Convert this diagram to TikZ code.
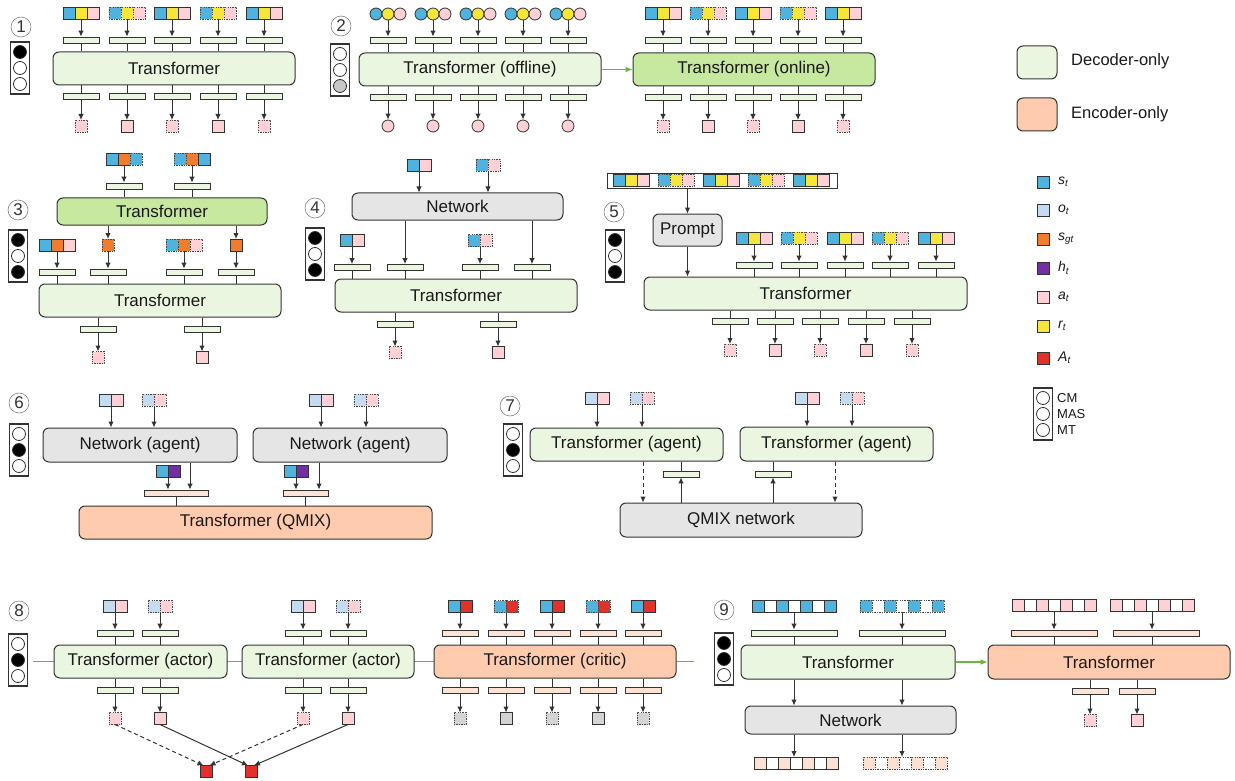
\documentclass[tikz,border=0pt]{standalone}
\usepackage{fontspec}
\setmainfont{Liberation Sans}
\usetikzlibrary{arrows.meta}
\definecolor{bd}{HTML}{333333}
\definecolor{decfill}{HTML}{EAF6DF}
\definecolor{onfill}{HTML}{C6E89F}
\definecolor{encfill}{HTML}{FFCBAE}
\definecolor{netfill}{HTML}{E6E5E6}
\definecolor{cs}{HTML}{4FB3DD}
\definecolor{co}{HTML}{C5DBF0}
\definecolor{cg}{HTML}{F07C30}
\definecolor{ch}{HTML}{7430A0}
\definecolor{ca}{HTML}{FFD0D6}
\definecolor{cr}{HTML}{F6E63A}
\definecolor{cA}{HTML}{E2302A}
\definecolor{cgray}{HTML}{D4D4D4}
\definecolor{barg}{HTML}{EAF6DF}
\definecolor{barp}{HTML}{FDE3D4}
\definecolor{cpeach}{HTML}{FCE0D2}
\definecolor{grn}{HTML}{6FB23F}
% box from corners: style x1 y1 x2 y2 name text
\newcommand{\bx}[7]{\node[#1, minimum width={#4-#2}, minimum height={#5-#3}] (#6) at ({(#2+#4)/2},{(#3+#5)/2}) {#7};}
% single square: name x y colour style
\newcommand{\sqat}[5]{\node[#5,fill=#4] (#1) at (#2,#3) {};}
% three squares: name x y c1 c2 c3 style
\newcommand{\sqtrio}[7]{%
  \node[#7,fill=#4] (#1-a) at (#2-12,#3) {};
  \node[#7,fill=#5] (#1) at (#2,#3) {};
  \node[#7,fill=#6] (#1-c) at (#2+12,#3) {};}
% two squares: name xjunction y c1 c2 style
\newcommand{\pairsq}[6]{%
  \node[#6,fill=#4] (#1-a) at (#2-6,#3) {};
  \node[#6,fill=#5] (#1-b) at (#2+6,#3) {};
  \coordinate (#1) at (#2,#3+6);}
% strip of seven cells: name xcenter y c1 c2 style
\newcommand{\cellstrip}[6]{%
  \foreach \k in {0,...,6}{%
    \ifodd\k\relax\def\cc{#5}\else\def\cc{#4}\fi
    \node[#6,fill=\cc] (#1-\k) at ({#2-36+12*\k},#3) {};}}
% indicator: name xleft ytop f1 f2 f3
\newcommand{\indbox}[6]{%
  \node[draw=bd, line width=1.1pt, fill=white, minimum width=19pt, minimum height=52pt, inner sep=0pt] (#1) at (#2+10,#3+26) {};
  \node[indot, fill=#4] (#1-1) at (#2+10,#3+10) {};
  \node[indot, fill=#5] (#1-2) at (#2+10,#3+26) {};
  \node[indot, fill=#6] (#1-3) at (#2+10,#3+42) {};}
\begin{document}
\begin{tikzpicture}[x=1pt,y=-1pt,
  sq/.style={draw=bd, line width=0.8pt, minimum size=12pt, inner sep=0pt, outer sep=0pt},
  dsq/.style={sq, draw=bd!90, dash pattern=on 1.3pt off 1.1pt},
  cir/.style={circle, draw=bd, line width=0.8pt, minimum size=12pt, inner sep=0pt},
  bar/.style={draw=bd, line width=0.8pt, fill=barg, minimum width=36pt, minimum height=6pt, inner sep=0pt},
  pbar/.style={bar, fill=barp},
  box/.style={draw=bd, line width=1pt, rounded corners=6pt, inner sep=0pt, text=black!90, font=\fontsize{17}{20}\selectfont},
  dec/.style={box, fill=decfill},
  dectwo/.style={box, fill=onfill},
  enc/.style={box, fill=encfill},
  net/.style={box, fill=netfill},
  arr/.style={draw=bd, line width=1pt, -{Latex[length=6pt,width=5.5pt]}},
  ln/.style={draw=bd, line width=0.8pt},
  garr/.style={draw=grn, line width=1.1pt, -{Latex[length=7pt,width=6pt]}},
  numc/.style={circle, draw=black!55, line width=0.5pt, minimum size=20pt, inner sep=0pt, text=black!80, font=\fontsize{17}{17}\selectfont},
  indot/.style={circle, draw=bd, line width=0.8pt, minimum size=13pt, inner sep=0pt},
  lab/.style={anchor=west, inner sep=0pt, text=black!90, font=\fontsize{16.5}{20}\selectfont},
  slab/.style={anchor=west, inner sep=0pt, text=black!90, font=\fontsize{14}{16}\selectfont\itshape},
  clab/.style={anchor=west, inner sep=0pt, text=black!90, font=\fontsize{13}{15}\selectfont}]
\useasboundingbox (0,0) rectangle (1235,781);

% ---------------- Panel 1
\node[numc] (n1) at (21,27) {1};
\indbox{ind1}{10}{42}{black}{white}{white}
\bx{dec}{53}{52}{295}{85}{T1}{Transformer}
\foreach \ii/\xx/\sa/\sb in {1/81/sq/dsq,2/127/dsq/sq,3/172/sq/dsq,4/218/dsq/sq,5/264/sq/dsq}{
  \sqtrio{p1i\ii}{\xx}{13}{cs}{cr}{ca}{\sa}
  \node[bar] (p1b\ii) at (\xx,40) {};
  \node[bar] (p1c\ii) at (\xx,96) {};
  \node[\sb,fill=ca] (p1o\ii) at (\xx,126) {};
  \draw[arr] (p1i\ii.south) -- (p1b\ii.north);
  \draw[ln] (p1b\ii.south) -- (p1b\ii.south |- T1.north);
  \draw[ln] (p1c\ii.north |- T1.south) -- (p1c\ii.north);
  \draw[arr] (p1c\ii.south) -- (p1o\ii.north);
}

% ---------------- Panel 2
\node[numc] (n2) at (341,26) {2};
\indbox{ind2}{330}{44}{white}{white}{black!22}
\bx{dec}{359}{53}{601}{86}{T2a}{Transformer (offline)}
\bx{dectwo}{633}{53}{875}{86}{T2b}{Transformer (online)}
\draw[garr] (T2a.east) -- (T2b.west);
\foreach \ii/\xx in {1/388,2/433,3/478,4/523,5/568}{
  \node[cir,fill=cs] (p2i\ii-a) at (\xx-12,14) {};
  \node[cir,fill=cr] (p2i\ii) at (\xx,14) {};
  \node[cir,fill=ca] (p2i\ii-c) at (\xx+12,14) {};
  \node[bar] (p2b\ii) at (\xx,40) {};
  \node[bar] (p2c\ii) at (\xx,97) {};
  \node[cir,fill=ca] (p2o\ii) at (\xx,126) {};
  \draw[arr] (p2i\ii.south) -- (p2b\ii.north);
  \draw[ln] (p2b\ii.south) -- (p2b\ii.south |- T2a.north);
  \draw[ln] (p2c\ii.north |- T2a.south) -- (p2c\ii.north);
  \draw[arr] (p2c\ii.south) -- (p2o\ii.north);
}
\foreach \ii/\xx/\sa/\sb in {1/663/sq/dsq,2/708/dsq/sq,3/753/sq/dsq,4/798/dsq/sq,5/843/sq/dsq}{
  \sqtrio{p2j\ii}{\xx}{13}{cs}{cr}{ca}{\sa}
  \node[bar] (p2d\ii) at (\xx,40) {};
  \node[bar] (p2e\ii) at (\xx,97) {};
  \node[\sb,fill=ca] (p2q\ii) at (\xx,126) {};
  \draw[arr] (p2j\ii.south) -- (p2d\ii.north);
  \draw[ln] (p2d\ii.south) -- (p2d\ii.south |- T2b.north);
  \draw[ln] (p2e\ii.north |- T2b.south) -- (p2e\ii.north);
  \draw[arr] (p2e\ii.south) -- (p2q\ii.north);
}

% ---------------- Legend
\bx{dec}{1017}{46}{1057}{79}{L1}{}
\node[lab] (L1t) at (1071,61) {Decoder-only};
\bx{enc}{1017}{98}{1057}{131}{L2}{}
\node[lab] (L2t) at (1071,114) {Encoder-only};
\foreach \nm/\yy/\cl/\tx in {Ls/182/cs/{s\textsubscript{t}},Lo/210/co/{o\textsubscript{t}},Lg/239/cg/{s\textsubscript{gt}},Lh/268/ch/{h\textsubscript{t}},La/297/ca/{a\textsubscript{t}},Lr/326/cr/{r\textsubscript{t}},LA/358/cA/{A\textsubscript{t}}}{
  \sqat{\nm}{1043}{\yy}{\cl}{sq}
  \node[slab] (\nm t) at (1058,\yy) {\tx};
}
\indbox{Lind}{1033}{388}{white}{white}{white}
\node[clab] (Lc1) at (1057,398) {CM};
\node[clab] (Lc2) at (1057,414) {MAS};
\node[clab] (Lc3) at (1057,430) {MT};

% ---------------- Panel 3
\node[numc] (n3) at (18,210) {3};
\indbox{ind3}{8}{230}{black}{white}{black}
\sqat{p3t1-a}{112}{159}{cs}{sq}
\sqat{p3t1}{124}{159}{cg}{sq}
\sqat{p3t1-c}{136}{159}{cs}{dsq}
\sqat{p3t2-a}{180}{159}{cs}{dsq}
\sqat{p3t2}{192}{159}{cg}{dsq}
\sqat{p3t2-c}{204}{159}{cs}{sq}
\node[bar] (p3b1) at (124,186) {};
\node[bar] (p3b2) at (192,186) {};
\bx{dectwo}{57}{198}{267}{225}{T3a}{Transformer}
\draw[arr] (p3t1.south) -- (p3b1.north);
\draw[arr] (p3t2.south) -- (p3b2.north);
\draw[ln] (p3b1.south) -- (p3b1.south |- T3a.north);
\draw[ln] (p3b2.south) -- (p3b2.south |- T3a.north);
\sqtrio{p3m1}{57}{245}{cs}{cg}{ca}{sq}
\sqat{p3m2}{108}{245}{cg}{dsq}
\sqtrio{p3m3}{184}{245}{cs}{cg}{ca}{dsq}
\sqat{p3m4}{236}{245}{cg}{sq}
\draw[arr] (p3m2.north |- T3a.south) -- (p3m2.north);
\draw[arr] (p3m4.north |- T3a.south) -- (p3m4.north);
\bx{dec}{39}{284}{281}{317}{T3b}{Transformer}
\foreach \ii/\xx in {1/57,2/108,3/184,4/236}{
  \node[bar] (p3c\ii) at (\xx,272) {};
  \draw[arr] (p3m\ii.south) -- (p3c\ii.north);
  \draw[ln] (p3c\ii.south) -- (p3c\ii.south |- T3b.north);
}
\foreach \ii/\xx/\sa in {1/98/dsq,2/202/sq}{
  \node[bar] (p3d\ii) at (\xx,329) {};
  \node[\sa,fill=ca] (p3o\ii) at (\xx,357.5) {};
  \draw[ln] (p3d\ii.north |- T3b.south) -- (p3d\ii.north);
  \draw[arr] (p3d\ii.south) -- (p3o\ii.north);
}

% ---------------- Panel 4
\node[numc] (n4) at (315,208) {4};
\indbox{ind4}{305}{228}{black}{white}{black}
\pairsq{p4t1}{419}{165.5}{cs}{ca}{sq}
\pairsq{p4t2}{488}{165.5}{cs}{ca}{dsq}
\bx{net}{352}{193}{563}{220}{N4}{Network}
\draw[arr] (p4t1) -- (p4t1 |- N4.north);
\draw[arr] (p4t2) -- (p4t2 |- N4.north);
\pairsq{p4m1}{352}{240.5}{cs}{ca}{sq}
\pairsq{p4m2}{480}{240.5}{cs}{ca}{dsq}
\node[bar] (p4b1) at (352,267.5) {};
\node[bar] (p4b2) at (405,267.5) {};
\node[bar] (p4b3) at (480,267.5) {};
\node[bar] (p4b4) at (532,267.5) {};
\draw[arr] (p4m1) -- (p4b1.north);
\draw[arr] (p4b2.north |- N4.south) -- (p4b2.north);
\draw[arr] (p4m2) -- (p4b3.north);
\draw[arr] (p4b4.north |- N4.south) -- (p4b4.north);
\bx{dec}{335}{279}{577}{312}{T4}{Transformer}
\foreach \ii in {1,2,3,4}{\draw[ln] (p4b\ii.south) -- (p4b\ii.south |- T4.north);}
\foreach \ii/\xx/\sa in {1/395/dsq,2/498/sq}{
  \node[bar] (p4c\ii) at (\xx,324) {};
  \node[\sa,fill=ca] (p4o\ii) at (\xx,352.5) {};
  \draw[ln] (p4c\ii.north |- T4.south) -- (p4c\ii.north);
  \draw[arr] (p4c\ii.south) -- (p4o\ii.north);
}

% ---------------- Panel 5
\node[numc] (n5) at (614,212) {5};
\indbox{ind5}{605}{230}{black}{white}{black}
\node[draw=bd, line width=0.8pt, fill=white, minimum width=230pt, minimum height=15pt, inner sep=0pt] (S5) at (722,180.5) {};
\foreach \ii/\xx/\sa in {1/631/sq,2/676/dsq,3/721/sq,4/766/dsq,5/811/sq}{
  \sqtrio{p5s\ii}{\xx}{180.5}{cs}{cr}{ca}{\sa}
}
\bx{net}{653}{214}{722}{246}{P5}{Prompt}
\draw[arr] (P5.north |- S5.south) -- (P5.north);
\bx{dec}{644}{277}{967}{310}{T5}{Transformer}
\draw[arr] (P5.south) -- (P5.south |- T5.north);
\foreach \ii/\xx/\sa in {1/754/sq,2/799/dsq,3/845/sq,4/890/dsq,5/936/sq}{
  \sqtrio{p5i\ii}{\xx}{238}{cs}{cr}{ca}{\sa}
  \node[bar] (p5b\ii) at (\xx,265) {};
  \draw[arr] (p5i\ii.south) -- (p5b\ii.north);
  \draw[ln] (p5b\ii.south) -- (p5b\ii.south |- T5.north);
}
\foreach \ii/\xx/\sa in {1/730/dsq,2/775/sq,3/820/dsq,4/866/sq,5/912/dsq}{
  \node[bar] (p5c\ii) at (\xx,321) {};
  \node[\sa,fill=ca] (p5o\ii) at (\xx,350) {};
  \draw[ln] (p5c\ii.north |- T5.south) -- (p5c\ii.north);
  \draw[arr] (p5c\ii.south) -- (p5o\ii.north);
}

% ---------------- Panel 6
\node[numc] (n6) at (19,403) {6};
\indbox{ind6}{9}{424}{white}{black}{white}
\bx{net}{43}{428}{237}{462}{N6a}{Network (agent)}
\bx{net}{253}{428}{447}{462}{N6b}{Network (agent)}
\pairsq{p6i1}{111}{400}{co}{ca}{sq}
\pairsq{p6i2}{154}{400}{co}{ca}{dsq}
\pairsq{p6i3}{321}{400}{co}{ca}{sq}
\pairsq{p6i4}{366}{400}{co}{ca}{dsq}
\draw[arr] (p6i1) -- (p6i1 |- N6a.north);
\draw[arr] (p6i2) -- (p6i2 |- N6a.north);
\draw[arr] (p6i3) -- (p6i3 |- N6b.north);
\draw[arr] (p6i4) -- (p6i4 |- N6b.north);
\pairsq{p6h1}{168}{471}{cs}{ch}{sq}
\pairsq{p6h2}{296}{471}{cs}{ch}{sq}
\node[pbar, minimum width=64pt] (p6b1) at (176,493) {};
\node[pbar, minimum width=45pt] (p6b2) at (305.5,493) {};
\draw[arr] (p6h1) -- (p6h1 |- p6b1.north);
\draw[arr] (p6h2) -- (p6h2 |- p6b2.north);
\draw[arr] ([xshift=14pt]p6b1.north |- N6a.south) -- ([xshift=14pt]p6b1.north);
\draw[arr] ([xshift=13.5pt]p6b2.north |- N6b.south) -- ([xshift=13.5pt]p6b2.north);
\bx{enc}{79}{506}{432}{539}{Q6}{Transformer (QMIX)}
\draw[ln] (p6b1.south) -- (p6b1.south |- Q6.north);
\draw[ln] (p6b2.south) -- (p6b2.south |- Q6.north);

% ---------------- Panel 7
\node[numc] (n7) at (510,406) {7};
\indbox{ind7}{503}{424}{white}{black}{white}
\bx{dec}{530}{428}{723}{461}{A7a}{Transformer (agent)}
\bx{dec}{740}{427}{933}{461}{A7b}{Transformer (agent)}
\bx{net}{620}{503}{862}{537}{Q7}{QMIX network}
\pairsq{p7i1}{597}{398}{co}{ca}{sq}
\pairsq{p7i2}{642}{398}{co}{ca}{dsq}
\pairsq{p7i3}{807}{398}{co}{ca}{sq}
\pairsq{p7i4}{852}{398}{co}{ca}{dsq}
\draw[arr] (p7i1) -- (p7i1 |- A7a.north);
\draw[arr] (p7i2) -- (p7i2 |- A7a.north);
\draw[arr] (p7i3) -- (p7i3 |- A7b.north);
\draw[arr] (p7i4) -- (p7i4 |- A7b.north);
\node[bar] (p7b1) at (681,474) {};
\node[bar] (p7b2) at (773,474) {};
\draw[ln] (p7b1.north) -- (p7b1.north |- A7a.south);
\draw[ln] (p7b2.north) -- (p7b2.north |- A7b.south);
\draw[arr] (p7b1.south |- Q7.north) -- (p7b1.south);
\draw[arr] (p7b2.south |- Q7.north) -- (p7b2.south);
\draw[arr, dash pattern=on 4pt off 3pt] ([xshift=16.5pt]A7a.south) -- ([xshift=16.5pt]A7a.south |- Q7.north);
\draw[arr, dash pattern=on 4pt off 3pt] ([xshift=-1.5pt]A7b.south) -- ([xshift=-1.5pt]A7b.south |- Q7.north);

% ---------------- Panel 8
\node[numc] (n8) at (19,611) {8};
\indbox{ind8}{8}{634}{white}{black}{white}
\coordinate (g8a) at (33,661.5);
\coordinate (g8b) at (694,661.5);
\draw[draw=grn, line width=1.1pt] (g8a) -- (g8b);
\bx{dec}{54}{645}{227}{678}{A8a}{Transformer (actor)}
\bx{dec}{242}{645}{414}{678}{A8b}{Transformer (actor)}
\bx{enc}{434}{645}{676}{678}{C8}{Transformer (critic)}
\foreach \ii/\xx/\sa/\sb/\bb in {1/115/sq/dsq/A8a,2/160/dsq/sq/A8a,3/303/sq/dsq/A8b,4/348/dsq/sq/A8b}{
  \pairsq{p8i\ii}{\xx}{606.5}{co}{ca}{\sa}
  \node[bar] (p8b\ii) at (\xx,633) {};
  \node[bar] (p8c\ii) at (\xx,690) {};
  \node[\sb,fill=ca] (p8o\ii) at (\xx,718.5) {};
  \draw[arr] (p8i\ii) -- (p8b\ii.north);
  \draw[ln] (p8b\ii.south) -- (p8b\ii.south |- \bb.north);
  \draw[ln] (p8c\ii.north |- \bb.south) -- (p8c\ii.north);
  \draw[arr] (p8c\ii.south) -- (p8o\ii.north);
}
\sqat{r1}{206.5}{771.5}{cA}{sq}
\sqat{r2}{251}{771.5}{cA}{sq}
\draw[arr, dash pattern=on 4pt off 3pt] (p8o1.south) -- ([xshift=-3pt]r1.north);
\draw[arr, dash pattern=on 4pt off 3pt] (p8o3.south) -- ([xshift=3pt]r1.north);
\draw[arr] (p8o2.south) -- ([xshift=-3pt]r2.north);
\draw[arr] (p8o4.south) -- ([xshift=3pt]r2.north);
\foreach \ii/\xx/\sa/\sb in {1/460/sq/dsq,2/506/dsq/sq,3/552/sq/dsq,4/598/dsq/sq,5/643/sq/dsq}{
  \pairsq{p8k\ii}{\xx}{606.5}{cs}{cA}{\sa}
  \node[pbar] (p8d\ii) at (\xx,633) {};
  \node[pbar] (p8e\ii) at (\xx,690) {};
  \node[\sb,fill=cgray] (p8g\ii) at (\xx,718.5) {};
  \draw[arr] (p8k\ii) -- (p8d\ii.north);
  \draw[ln] (p8d\ii.south) -- (p8d\ii.south |- C8.north);
  \draw[ln] (p8e\ii.north |- C8.south) -- (p8e\ii.north);
  \draw[arr] (p8e\ii.south) -- (p8g\ii.north);
}

% ---------------- Panel 9
\node[numc] (n9) at (724,610) {9};
\indbox{ind9}{714}{633}{black}{black}{white}
\cellstrip{p9i1}{794}{606}{cs}{white}{sq}
\cellstrip{p9i2}{902}{606}{cs}{white}{dsq}
\node[bar, minimum width=86pt] (p9b1) at (794,633) {};
\node[bar, minimum width=86pt] (p9b2) at (902,633) {};
\bx{dec}{741}{645}{955}{679}{T9a}{Transformer}
\bx{enc}{988}{645}{1230}{679}{T9b}{Transformer}
\draw[garr] (T9a.east) -- (T9b.west);
\draw[arr] (p9i1-3.south) -- (p9b1.north);
\draw[arr] (p9i2-3.south) -- (p9b2.north);
\draw[ln] (p9b1.south) -- (p9b1.south |- T9a.north);
\draw[ln] (p9b2.south) -- (p9b2.south |- T9a.north);
\bx{net}{745}{706}{956}{734}{N9}{Network}
\draw[arr] (p9b1.south |- T9a.south) -- (p9b1.south |- N9.north);
\draw[arr] (p9b2.south |- T9a.south) -- (p9b2.south |- N9.north);
\cellstrip{p9o1}{796}{763}{cpeach}{white}{sq}
\cellstrip{p9o2}{905}{763}{cpeach}{white}{dsq}
\draw[arr] (p9b1.south |- N9.south) -- (p9b1.south |- p9o1-3.north);
\draw[arr] (p9b2.south |- N9.south) -- (p9b2.south |- p9o2-3.north);
\cellstrip{p9r1}{1054}{605}{ca}{white}{sq}
\cellstrip{p9r2}{1152}{605}{ca}{white}{sq}
\node[pbar, minimum width=86pt] (p9d1) at (1054,633) {};
\node[pbar, minimum width=86pt] (p9d2) at (1156,633) {};
\draw[arr] (p9r1-3.south) -- (p9r1-3.south |- p9d1.north);
\draw[arr] (p9r2-3.south) -- (p9r2-3.south |- p9d2.north);
\draw[ln] (p9d1.south) -- (p9d1.south |- T9b.north);
\draw[ln] (p9r2-3.south |- p9d2.south) -- (p9r2-3.south |- T9b.north);
\foreach \ii/\xx/\sa in {1/1090/dsq,2/1137/sq}{
  \node[pbar] (p9e\ii) at (\xx,691) {};
  \node[\sa,fill=ca] (p9q\ii) at (\xx,720.5) {};
  \draw[ln] (p9e\ii.north |- T9b.south) -- (p9e\ii.north);
  \draw[arr] (p9e\ii.south) -- (p9q\ii.north);
}
\end{tikzpicture}
\end{document}
